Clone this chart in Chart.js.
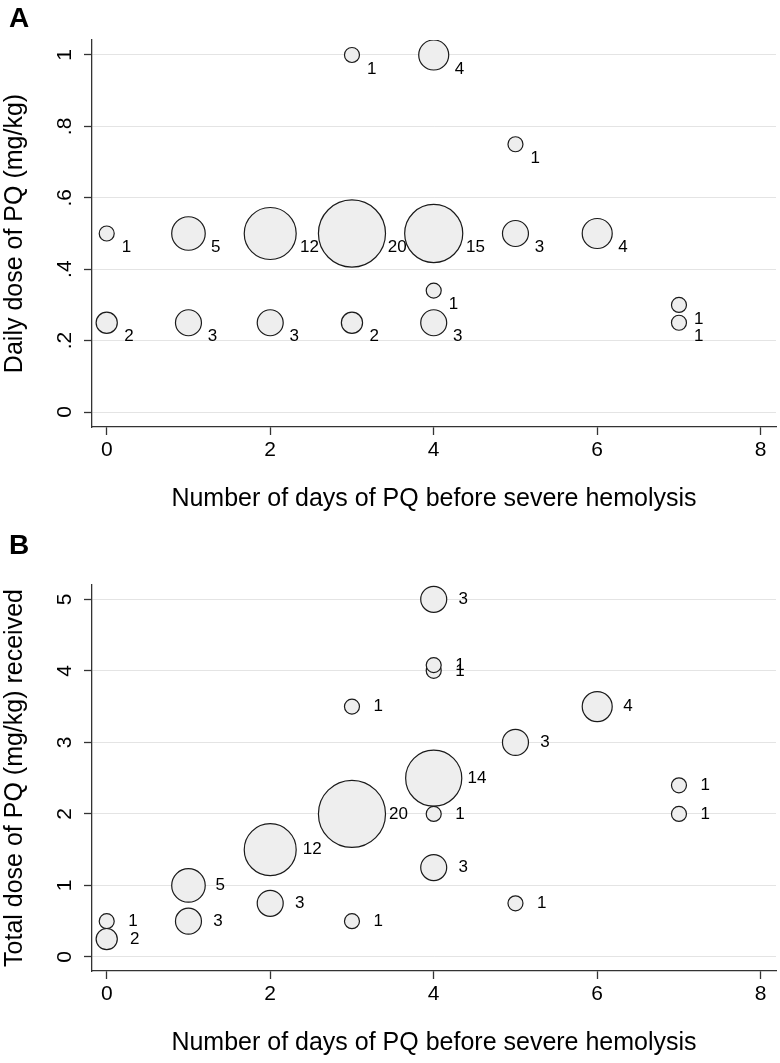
<!DOCTYPE html>
<html>
<head>
<meta charset="utf-8">
<script src="https://cdn.jsdelivr.net/npm/chart.js@4.4.1/dist/chart.umd.min.js"></script>
<style>
  html, body { margin: 0; padding: 0; background: #fff; }
  #wrap { position: relative; width: 780px; height: 1063px; }
  .panel { position: absolute; left: 0; width: 780px; }
  .tag { position: absolute; left: 9px; font: bold 28px "Liberation Sans", Arial, sans-serif; line-height: 28px; color: #000; }
</style>
</head>
<body>
<div id="wrap">
  <div class="panel" style="top:0;height:520px"><canvas id="chartA" width="780" height="520"></canvas></div>
  <div class="panel" style="top:520px;height:543px"><canvas id="chartB" width="780" height="543"></canvas></div>
  <div class="tag" style="top:4px">A</div>
  <div class="tag" style="top:531px">B</div>
</div>
<script>
const FONT = '"Liberation Sans", Arial, Helvetica, sans-serif';

const xTicks = [0, 2, 4, 6, 8];
const xTitle = 'Number of days of PQ before severe hemolysis';

// panel A - daily dose
const daysA  = [0, 1, 2, 3, 4, 5, 6, 0, 1, 2, 3, 4, 3, 4, 5, 4, 7, 7];
const doseA  = [0.5, 0.5, 0.5, 0.5, 0.5, 0.5, 0.5, 0.25, 0.25, 0.25, 0.25, 0.25, 1, 1, 0.75, 0.34, 0.3, 0.25];
const countA = [1, 5, 12, 20, 15, 3, 4, 2, 3, 3, 2, 3, 1, 4, 1, 1, 1, 1];
const yTicksA  = [0, 0.2, 0.4, 0.6, 0.8, 1];
const yLabelsA = ['0', '.2', '.4', '.6', '.8', '1'];

// panel B - total dose
const daysB  = [0, 0, 1, 1, 2, 2, 3, 3, 3, 4, 4, 4, 4, 4, 4, 5, 5, 6, 7, 7];
const totalB = [0.5, 0.25, 1, 0.5, 1.5, 0.75, 2, 0.5, 3.5, 5, 4, 4.08, 2.5, 2, 1.25, 3, 0.75, 3.5, 2.4, 2];
const countB = [1, 2, 5, 3, 12, 3, 20, 1, 1, 3, 1, 1, 14, 1, 3, 3, 1, 4, 1, 1];
const yTicksB  = [0, 1, 2, 3, 4, 5];
const yLabelsB = ['0', '1', '2', '3', '4', '5'];

const R1 = 7.5; // radius of a bubble with n = 1 (area ~ n)

// rotated y tick labels + count labels beside the bubbles
function stataText(counts, yTicks, yLabels, gapK, gapC, dy) {
    return {
        id: 'stataText',
        afterDraw(chart) {
            const ctx = chart.ctx;
            const ys = chart.scales.y;
            ctx.save();
            ctx.fillStyle = '#000';
            ctx.font = '21px ' + FONT;
            ctx.textAlign = 'center';
            ctx.textBaseline = 'alphabetic';
            yTicks.forEach((v, i) => {
                ctx.save();
                ctx.translate(71, ys.getPixelForValue(v));
                ctx.rotate(-Math.PI / 2);
                ctx.fillText(yLabels[i], 0, 0);
                ctx.restore();
            });
            ctx.font = '17px ' + FONT;
            ctx.textAlign = 'left';
            ctx.textBaseline = 'middle';
            chart.getDatasetMeta(0).data.forEach((el, i) => {
                const r = el.options.radius;
                ctx.fillText(String(counts[i]), el.x + gapK * r + gapC, el.y + dy);
            });
            ctx.restore();
        }
    };
}

function bubbleChart(id, xs, ys, counts, yTicks, yLabels, yMin, yMax, yTitle, padTop, xHeight, titlePad, labelPos) {
    const points = xs.map((x, i) => ({ x: x, y: ys[i], r: R1 * Math.sqrt(counts[i]) }));
    return new Chart(document.getElementById(id), {
        type: 'bubble',
        data: {
            datasets: [{
                data: points,
                backgroundColor: '#eeeeee',
                borderColor: '#1a1a1a',
                borderWidth: 1.2,
                hoverRadius: 0
            }]
        },
        options: {
            responsive: false,
            animation: false,
            events: [],
            layout: { autoPadding: false, padding: { top: padTop, right: 4, left: 0, bottom: 0 } },
            plugins: {
                legend: { display: false },
                tooltip: { enabled: false }
            },
            scales: {
                x: {
                    type: 'linear',
                    min: -0.18,
                    max: 8.187,
                    afterBuildTicks: s => { s.ticks = xTicks.map(v => ({ value: v })); },
                    afterFit: s => { s.height = xHeight; },
                    ticks: { color: '#000', font: { family: FONT, size: 21 }, padding: 3, maxRotation: 0 },
                    grid: { drawOnChartArea: false, drawTicks: true, tickLength: 8, tickColor: '#333', tickWidth: 1.3 },
                    border: { color: '#333', width: 1.3 },
                    title: {
                        display: true, text: xTitle, color: '#000',
                        font: { family: FONT, size: 25 },
                        padding: { top: 0, bottom: titlePad }
                    }
                },
                y: {
                    type: 'linear',
                    min: yMin,
                    max: yMax,
                    afterBuildTicks: s => { s.ticks = yTicks.map(v => ({ value: v })); },
                    afterFit: s => { s.width = 92; },
                    ticks: { display: false },
                    grid: { color: '#e4e4e4', lineWidth: 1, drawTicks: true, tickLength: 8, tickColor: '#333', tickWidth: 1.3 },
                    border: { color: '#333', width: 1.3 },
                    title: {
                        display: true, text: yTitle, color: '#000',
                        font: { family: FONT, size: 25 },
                        padding: { top: 0, bottom: 0 }
                    }
                }
            }
        },
        plugins: [stataText(counts, yTicks, yLabels, labelPos[0], labelPos[1], labelPos[2])]
    });
}

bubbleChart('chartA', daysA, doseA, countA, yTicksA, yLabelsA, -0.042, 1.042,
    'Daily dose of PQ (mg/kg)', 40, 93, 6, [0.8, 9, 14]);

bubbleChart('chartB', daysB, totalB, countB, yTicksB, yLabelsB, -0.196, 5.2,
    'Total dose of PQ (mg/kg) received', 65, 92, 5, [0.6, 17, 0]);
</script>
</body>
</html>
